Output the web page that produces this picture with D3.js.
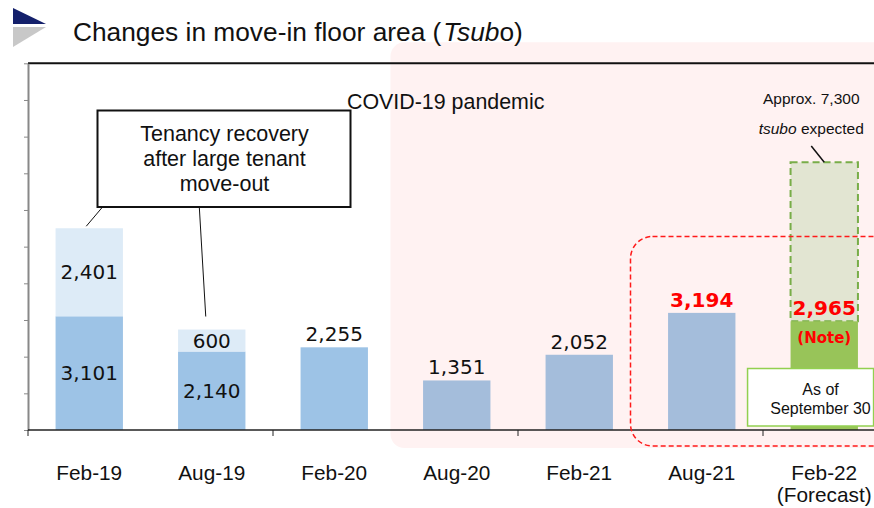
<!DOCTYPE html>
<html>
<head>
<meta charset="utf-8">
<script src="https://cdn.jsdelivr.net/npm/d3@7"></script>
<style>
  html, body { margin: 0; padding: 0; background: #fff; }
  svg { display: block; }
</style>
</head>
<body>
<div id="chart"></div>
<script>
const width = 874;
const height = 508;

// half-year periods on the x axis
const periods = ['Feb-19', 'Aug-19', 'Feb-20', 'Aug-20', 'Feb-21', 'Aug-21', 'Feb-22'];
const periodLabels = [['Feb-19'], ['Aug-19'], ['Feb-20'], ['Aug-20'], ['Feb-21'], ['Aug-21'], ['Feb-22', '(Forecast)']];

// move-in floor area (tsubo)
const baseArea = [3101, 2140, 2255, 1351, 2052, 3194, 2965];
const recoveryArea = [2401, 600, 0, 0, 0, 0, 0]; // recovery after large tenant move-out
const forecastArea = [0, 0, 0, 0, 0, 0, 7300];  // approx. total expected
const covidPeriods = ['Aug-20', 'Feb-21', 'Aug-21', 'Feb-22'];
const highlightPeriods = ['Aug-21', 'Feb-22'];
const yTicks = [0, 1000, 2000, 3000, 4000, 5000, 6000, 7000, 8000, 9000, 10000];

const sansFont = '"Liberation Sans", Arial, sans-serif';
const numFont = '"DejaVu Sans", Verdana, sans-serif';

const rows = periods.map((p, i) => ({
    period: p,
    labels: periodLabels[i],
    base: baseArea[i],
    recovery: recoveryArea[i],
    forecast: forecastArea[i],
    covid: covidPeriods.includes(p),
    highlight: highlightPeriods.includes(p)
}));

const x = d3.scaleBand()
    .domain(periods)
    .range([28, 885.5])
    .paddingInner(0.45)
    .paddingOuter(0.225);

const y = d3.scaleLinear()
    .domain([0, 10000])
    .range([430, 63.3]);

const gap = x.step() - x.bandwidth();
const slotLeft = p => x(p) - gap / 2;
const mid = p => x(p) + x.bandwidth() / 2;

const svg = d3.select('#chart').append('svg')
    .attr('width', width)
    .attr('height', height);

// COVID-19 shaded period (behind everything)
svg.append('rect')
    .attr('x', slotLeft('Aug-20') - 5)
    .attr('y', y(10000) - 21)
    .attr('width', width - slotLeft('Aug-20') + 30)
    .attr('height', y(0) - y(10000) + 39)
    .attr('rx', 14)
    .attr('fill', '#fff2f2');

// title with the small triangle icon
svg.append('polygon')
    .attr('points', '13,8 46,24 13,24')
    .attr('fill', '#14206b');
svg.append('polygon')
    .attr('points', '13,27 46,27 13,47')
    .attr('fill', '#c8c8c8');

const title = svg.append('text')
    .attr('x', 73)
    .attr('y', 40.5)
    .attr('font-family', sansFont)
    .attr('font-size', 26.3)
    .attr('fill', '#111');
title.append('tspan').text('Changes in move-in floor area (');
title.append('tspan').attr('font-style', 'italic').attr('dx', 2).text('Tsub');
title.append('tspan').text('o)');

svg.append('text')
    .attr('x', 347)
    .attr('y', 109)
    .attr('font-family', sansFont)
    .attr('font-size', 21.4)
    .attr('fill', '#111')
    .text('COVID-19 pandemic');

// frame top line
svg.append('line')
    .attr('x1', 28).attr('x2', width)
    .attr('y1', y(10000)).attr('y2', y(10000))
    .attr('stroke', '#111')
    .attr('stroke-width', 2);

// y axis (ticks only, no labels)
const yAxis = svg.append('g')
    .attr('transform', 'translate(28,0)')
    .call(d3.axisLeft(y).tickValues(yTicks).tickFormat('').tickSize(4).tickSizeOuter(0));
yAxis.select('.domain').attr('stroke', '#888').attr('stroke-width', 2);
yAxis.selectAll('.tick line').attr('stroke', '#888');

// forecast (dashed) bar
svg.selectAll('rect.forecast')
    .data(rows.filter(d => d.forecast > 0))
    .enter()
    .append('rect')
    .attr('class', 'forecast')
    .attr('x', d => x(d.period))
    .attr('y', d => y(d.forecast))
    .attr('width', x.bandwidth())
    .attr('height', d => y(d.base) - y(d.forecast))
    .attr('fill', '#e2e5d2')
    .attr('stroke', '#78ad48')
    .attr('stroke-width', 2)
    .attr('stroke-dasharray', '7,4');

// base bars
svg.selectAll('rect.base')
    .data(rows)
    .enter()
    .append('rect')
    .attr('class', 'base')
    .attr('x', d => x(d.period))
    .attr('y', d => y(d.base))
    .attr('width', x.bandwidth())
    .attr('height', d => y(0) - y(d.base))
    .attr('fill', d => d.forecast > 0 ? '#98c459' : (d.covid ? '#a4bddb' : '#9dc3e6'));

// recovery segments stacked on top
svg.selectAll('rect.recovery')
    .data(rows.filter(d => d.recovery > 0))
    .enter()
    .append('rect')
    .attr('class', 'recovery')
    .attr('x', d => x(d.period))
    .attr('y', d => y(d.base + d.recovery))
    .attr('width', x.bandwidth())
    .attr('height', d => y(d.base) - y(d.base + d.recovery))
    .attr('fill', '#ddebf7');

// labels inside stacked bars
const stacked = rows.filter(d => d.recovery > 0);
svg.selectAll('text.in-base')
    .data(stacked)
    .enter()
    .append('text')
    .attr('x', d => mid(d.period))
    .attr('y', d => (y(0) + y(d.base)) / 2)
    .attr('dy', '0.36em')
    .attr('text-anchor', 'middle')
    .attr('font-family', numFont)
    .attr('font-size', 20)
    .attr('fill', '#111')
    .text(d => d3.format(',')(d.base));

svg.selectAll('text.in-rec')
    .data(stacked)
    .enter()
    .append('text')
    .attr('x', d => mid(d.period))
    .attr('y', d => (y(d.base) + y(d.base + d.recovery)) / 2)
    .attr('dy', '0.36em')
    .attr('text-anchor', 'middle')
    .attr('font-family', numFont)
    .attr('font-size', 20)
    .attr('fill', '#111')
    .text(d => d3.format(',')(d.recovery));

// labels above single bars
svg.selectAll('text.top')
    .data(rows.filter(d => d.recovery === 0))
    .enter()
    .append('text')
    .attr('x', d => mid(d.period))
    .attr('y', d => y(d.base) - 6)
    .attr('text-anchor', 'middle')
    .attr('font-family', numFont)
    .attr('font-size', 20)
    .attr('font-weight', d => d.highlight ? 'bold' : 'normal')
    .attr('fill', d => d.highlight ? '#ff0000' : '#111')
    .text(d => d3.format(',')(d.base));

const fc = rows[rows.length - 1];
svg.append('text')
    .attr('x', mid(fc.period))
    .attr('y', y(fc.base) + 22)
    .attr('text-anchor', 'middle')
    .attr('font-family', numFont)
    .attr('font-size', 15)
    .attr('font-weight', 'bold')
    .attr('fill', '#ff0000')
    .text('(Note)');

// x axis line and ticks every second period
svg.append('line')
    .attr('x1', 28).attr('x2', width)
    .attr('y1', y(0)).attr('y2', y(0))
    .attr('stroke', '#222')
    .attr('stroke-width', 1.5);

svg.selectAll('line.xtick')
    .data(periods.filter((p, i) => i % 2 === 0))
    .enter()
    .append('line')
    .attr('x1', d => slotLeft(d)).attr('x2', d => slotLeft(d))
    .attr('y1', y(0)).attr('y2', y(0) + 6)
    .attr('stroke', '#222');

const xLabels = svg.selectAll('text.xlabel')
    .data(rows)
    .enter()
    .append('text')
    .attr('text-anchor', 'middle')
    .attr('font-family', sansFont)
    .attr('font-size', 20.8)
    .attr('fill', '#111');
xLabels.selectAll('tspan')
    .data(d => d.labels.map(l => ({ text: l, period: d.period })))
    .enter()
    .append('tspan')
    .attr('x', d => mid(d.period))
    .attr('y', (d, i) => 480 + i * 21.5)
    .text(d => d.text);

// red dashed highlight around latest results
svg.append('rect')
    .attr('x', slotLeft('Aug-21') - 10)
    .attr('y', 236.5)
    .attr('width', width - slotLeft('Aug-21') + 40)
    .attr('height', y(0) - 236.5 + 16)
    .attr('rx', 22)
    .attr('fill', 'none')
    .attr('stroke', '#ff1a1a')
    .attr('stroke-width', 1.5)
    .attr('stroke-dasharray', '5,3');

// "As of September 30" box
const asOf = svg.append('g');
asOf.append('rect')
    .attr('x', x('Feb-22') - 43)
    .attr('y', 368.5)
    .attr('width', 126)
    .attr('height', 57.5)
    .attr('fill', '#fff')
    .attr('stroke', '#92d050')
    .attr('stroke-width', 1.5);
asOf.append('text')
    .attr('x', 820.5)
    .attr('y', 395)
    .attr('text-anchor', 'middle')
    .attr('font-family', sansFont)
    .attr('font-size', 16)
    .attr('fill', '#111')
    .text('As of');
asOf.append('text')
    .attr('x', 820.5)
    .attr('y', 413.5)
    .attr('text-anchor', 'middle')
    .attr('font-family', sansFont)
    .attr('font-size', 16)
    .attr('fill', '#111')
    .text('September 30');

// forecast callout
svg.append('text')
    .attr('x', mid(fc.period) - 13)
    .attr('y', 104)
    .attr('text-anchor', 'middle')
    .attr('font-family', sansFont)
    .attr('font-size', 15.5)
    .attr('fill', '#111')
    .text('Approx. 7,300');
const tsubo = svg.append('text')
    .attr('x', mid(fc.period) - 13)
    .attr('y', 134)
    .attr('text-anchor', 'middle')
    .attr('font-family', sansFont)
    .attr('font-size', 15.5)
    .attr('fill', '#111');
tsubo.append('tspan').attr('font-style', 'italic').text('tsubo');
tsubo.append('tspan').text(' expected');
svg.append('line')
    .attr('x1', mid(fc.period) - 13).attr('y1', 146)
    .attr('x2', mid(fc.period)).attr('y2', y(fc.forecast))
    .attr('stroke', '#111')
    .attr('stroke-width', 1.5);

// tenancy recovery callout
const note = svg.append('g');
note.append('line')
    .attr('x1', 101.7).attr('y1', 208)
    .attr('x2', mid('Feb-19') - 3).attr('y2', y(rows[0].base + rows[0].recovery) - 2)
    .attr('stroke', '#111');
note.append('line')
    .attr('x1', 199.3).attr('y1', 207)
    .attr('x2', mid('Aug-19') - 6).attr('y2', y(rows[1].base + rows[1].recovery) - 13)
    .attr('stroke', '#111');
note.append('rect')
    .attr('x', 97.5)
    .attr('y', 110.5)
    .attr('width', 253)
    .attr('height', 96.5)
    .attr('fill', '#fff')
    .attr('stroke', '#111')
    .attr('stroke-width', 2);
['Tenancy recovery', 'after large tenant', 'move-out'].forEach((line, i) => {
    note.append('text')
        .attr('x', 224.5)
        .attr('y', 141 + i * 25)
        .attr('text-anchor', 'middle')
        .attr('font-family', sansFont)
        .attr('font-size', 21.5)
        .attr('fill', '#111')
        .text(line);
});
</script>
</body>
</html>
